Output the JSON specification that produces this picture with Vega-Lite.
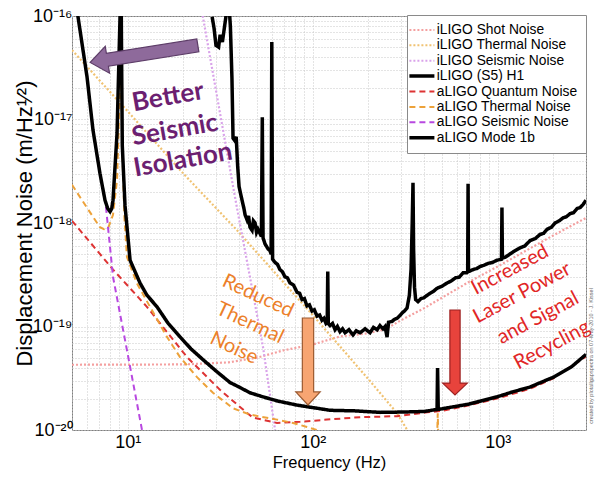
{
  "$schema": "https://vega.github.io/schema/vega-lite/v6.json",
  "width": 514,
  "height": 414,
  "autosize": {"type": "none"},
  "padding": {"left": 72, "top": 16, "right": 13, "bottom": 49},
  "background": "white",
  "config": {
    "view": {"stroke": "#7f7f7f", "strokeWidth": 1},
    "font": "Liberation Sans",
    "axis": {"grid": true, "gridColor": "#c8c8c8", "gridDash": [1, 2], "gridWidth": 1, "ticks": false, "domain": false, "labelColor": "#000", "titleColor": "#000", "labelFont": "Liberation Sans", "titleFont": "Liberation Sans", "titleFontWeight": "normal", "labelOverlap": false, "labelFlush": false},
    "legend": {"padding": 8, "strokeColor": "#8a8a8a", "fillColor": "white", "labelFont": "Liberation Sans", "labelFontSize": 13.8, "labelColor": "black", "symbolType": "stroke", "symbolSize": 625, "symbolStrokeWidth": 2, "labelOffset": 8, "rowPadding": 0.4, "labelLimit": 400}
  },
  "data": {"values": [
    {"s":"shot","f":5,"v":4.27e-20},{"s":"shot","f":20,"v":4.3e-20},{"s":"shot","f":35,"v":4.5e-20},{"s":"shot","f":50,"v":5.0e-20},{"s":"shot","f":70,"v":5.9e-20},{"s":"shot","f":100,"v":6.7e-20},{"s":"shot","f":140,"v":8.0e-20},{"s":"shot","f":200,"v":8.6e-20},{"s":"shot","f":250,"v":9.5e-20},{"s":"shot","f":300,"v":1.15e-19},{"s":"shot","f":400,"v":1.5e-19},{"s":"shot","f":500,"v":1.9e-19},{"s":"shot","f":700,"v":2.7e-19},{"s":"shot","f":1000,"v":3.8e-19},{"s":"shot","f":2000,"v":7.6e-19},{"s":"shot","f":3000,"v":1.12e-18},
    {"s":"ith","f":5,"v":4.68e-17},{"s":"ith","f":10,"v":1.2e-17},{"s":"ith","f":20,"v":3.0e-18},{"s":"ith","f":39,"v":8.5e-19},{"s":"ith","f":100,"v":1.29e-19},{"s":"ith","f":200,"v":3.1e-20},{"s":"ith","f":285,"v":1.46e-20},{"s":"ith","f":330,"v":9.5e-21},{"s":"ith","f":360,"v":6.3e-21},
    {"s":"ise","f":24,"v":1.86e-16},{"s":"ise","f":25.5,"v":9.8e-17},{"s":"ise","f":32,"v":1.0e-17},{"s":"ise","f":38,"v":1.78e-18},{"s":"ise","f":45,"v":3.55e-19},{"s":"ise","f":53.9,"v":6.3e-20},{"s":"ise","f":62.6,"v":1.0e-20},{"s":"ise","f":64,"v":7.1e-21},
    {"s":"h1","f":28.6,"v":9.8e-17},{"s":"h1","f":29.3,"v":7.6e-17},{"s":"h1","f":30.0,"v":5.2e-17},{"s":"h1","f":31.0,"v":5.0e-17},{"s":"h1","f":31.6,"v":6.6e-17},{"s":"h1","f":32.5,"v":5.6e-17},{"s":"h1","f":33.5,"v":8.3e-17},{"s":"h1","f":34.3,"v":1.12e-16},{"s":"h1","f":35.3,"v":1.26e-16},{"s":"h1","f":35.9,"v":7.9e-17},{"s":"h1","f":36.6,"v":2.5e-17},{"s":"h1","f":37.1,"v":6.6e-18},{"s":"h1","f":37.8,"v":6.3e-18},{"s":"h1","f":38.6,"v":6.8e-18},{"s":"h1","f":39.3,"v":3.55e-18},{"s":"h1","f":40.0,"v":2.24e-18},{"s":"h1","f":41.5,"v":1.66e-18},{"s":"h1","f":42.5,"v":1.38e-18},{"s":"h1","f":43.1,"v":1.2e-18},{"s":"h1","f":44.2,"v":1.07e-18},{"s":"h1","f":45.0,"v":1.17e-18},{"s":"h1","f":45.8,"v":9.1e-19},{"s":"h1","f":47.0,"v":8.5e-19},{"s":"h1","f":47.8,"v":1.05e-18},{"s":"h1","f":48.8,"v":1.0e-18},{"s":"h1","f":49.7,"v":8.1e-19},{"s":"h1","f":50.6,"v":8.7e-19},{"s":"h1","f":51.9,"v":7.9e-19},{"s":"h1","f":52.8,"v":7.4e-19},{"s":"h1","f":53.4,"v":1.05e-17},{"s":"h1","f":53.9,"v":7.2e-19},{"s":"h1","f":55.2,"v":6.3e-19},{"s":"h1","f":57.4,"v":5.6e-19},{"s":"h1","f":58.8,"v":5.4e-19},{"s":"h1","f":59.6,"v":5.0e-19},{"s":"h1","f":60.1,"v":5.6e-17},{"s":"h1","f":60.7,"v":4.47e-19},{"s":"h1","f":62.5,"v":4.17e-19},{"s":"h1","f":64.5,"v":3.98e-19},{"s":"h1","f":66.5,"v":3.55e-19},{"s":"h1","f":68.5,"v":3.39e-19},{"s":"h1","f":70.8,"v":3.02e-19},{"s":"h1","f":73.0,"v":2.95e-19},{"s":"h1","f":75.4,"v":2.63e-19},{"s":"h1","f":78.8,"v":2.51e-19},{"s":"h1","f":82.3,"v":2.14e-19},{"s":"h1","f":85.0,"v":2.09e-19},{"s":"h1","f":87.5,"v":1.82e-19},{"s":"h1","f":90.2,"v":1.86e-19},{"s":"h1","f":93.1,"v":1.58e-19},{"s":"h1","f":96.0,"v":1.62e-19},{"s":"h1","f":99.1,"v":1.41e-19},{"s":"h1","f":102,"v":1.45e-19},{"s":"h1","f":105.5,"v":1.26e-19},{"s":"h1","f":109,"v":1.29e-19},{"s":"h1","f":112.2,"v":1.15e-19},{"s":"h1","f":115,"v":1.2e-19},{"s":"h1","f":118,"v":1.07e-19},{"s":"h1","f":119.8,"v":1.1e-19},{"s":"h1","f":120.6,"v":3.4e-19},{"s":"h1","f":121.4,"v":1.07e-19},{"s":"h1","f":124.1,"v":1.02e-19},{"s":"h1","f":128,"v":1.07e-19},{"s":"h1","f":132.1,"v":9.3e-20},{"s":"h1","f":136,"v":1.0e-19},{"s":"h1","f":140.5,"v":8.9e-20},{"s":"h1","f":145,"v":9.5e-20},{"s":"h1","f":149.6,"v":8.7e-20},{"s":"h1","f":157,"v":9.3e-20},{"s":"h1","f":165.1,"v":8.3e-20},{"s":"h1","f":172,"v":9.1e-20},{"s":"h1","f":180.2,"v":8.7e-20},{"s":"h1","f":192,"v":9.5e-20},{"s":"h1","f":204.1,"v":8.7e-20},{"s":"h1","f":213,"v":9.8e-20},{"s":"h1","f":222.7,"v":9.3e-20},{"s":"h1","f":231,"v":1.02e-19},{"s":"h1","f":239.9,"v":9.5e-20},{"s":"h1","f":246,"v":1.0e-19},{"s":"h1","f":252.3,"v":7.9e-20},{"s":"h1","f":257,"v":1.1e-19},{"s":"h1","f":268.5,"v":1.12e-19},{"s":"h1","f":276,"v":1.17e-19},{"s":"h1","f":285.6,"v":1.2e-19},{"s":"h1","f":294,"v":1.26e-19},{"s":"h1","f":304,"v":1.35e-19},{"s":"h1","f":313,"v":1.41e-19},{"s":"h1","f":323.5,"v":1.51e-19},{"s":"h1","f":333,"v":2.0e-19},{"s":"h1","f":340,"v":3.55e-19},{"s":"h1","f":345,"v":1.0e-18},{"s":"h1","f":348.4,"v":2.45e-18},{"s":"h1","f":351,"v":5.6e-19},{"s":"h1","f":355,"v":2.4e-19},{"s":"h1","f":360,"v":1.82e-19},{"s":"h1","f":370.7,"v":1.74e-19},{"s":"h1","f":385,"v":1.86e-19},{"s":"h1","f":399.8,"v":1.9e-19},{"s":"h1","f":415,"v":2.0e-19},{"s":"h1","f":430.5,"v":2.09e-19},{"s":"h1","f":450,"v":2.19e-19},{"s":"h1","f":470,"v":2.34e-19},{"s":"h1","f":500,"v":2.45e-19},{"s":"h1","f":532,"v":2.63e-19},{"s":"h1","f":560,"v":2.75e-19},{"s":"h1","f":590,"v":2.95e-19},{"s":"h1","f":620,"v":3.0e-19},{"s":"h1","f":650,"v":3.3e-19},{"s":"h1","f":680,"v":3.3e-19},{"s":"h1","f":688,"v":3.39e-19},{"s":"h1","f":691.5,"v":2.4e-18},{"s":"h1","f":695,"v":3.39e-19},{"s":"h1","f":736,"v":3.55e-19},{"s":"h1","f":770,"v":3.63e-19},{"s":"h1","f":802,"v":3.8e-19},{"s":"h1","f":840,"v":3.9e-19},{"s":"h1","f":887,"v":4.07e-19},{"s":"h1","f":940,"v":4.17e-19},{"s":"h1","f":991,"v":4.37e-19},{"s":"h1","f":1048,"v":4.47e-19},{"s":"h1","f":1054,"v":1.41e-18},{"s":"h1","f":1060,"v":4.57e-19},{"s":"h1","f":1100,"v":4.68e-19},{"s":"h1","f":1210,"v":5.25e-19},{"s":"h1","f":1320,"v":5.75e-19},{"s":"h1","f":1400,"v":6.0e-19},{"s":"h1","f":1496,"v":6.76e-19},{"s":"h1","f":1600,"v":7.1e-19},{"s":"h1","f":1694,"v":7.76e-19},{"s":"h1","f":1770,"v":7.94e-19},{"s":"h1","f":1849,"v":8.7e-19},{"s":"h1","f":1950,"v":9.1e-19},{"s":"h1","f":2041,"v":1.0e-18},{"s":"h1","f":2150,"v":1.05e-18},{"s":"h1","f":2254,"v":1.12e-18},{"s":"h1","f":2350,"v":1.15e-18},{"s":"h1","f":2460,"v":1.23e-18},{"s":"h1","f":2570,"v":1.26e-18},{"s":"h1","f":2685,"v":1.38e-18},{"s":"h1","f":2790,"v":1.41e-18},{"s":"h1","f":2893,"v":1.51e-18},{"s":"h1","f":3000,"v":1.66e-18},
    {"s":"qn","f":5,"v":1.05e-18},{"s":"qn","f":8.33,"v":3.55e-19},{"s":"qn","f":12.7,"v":1.55e-19},{"s":"qn","f":20.9,"v":5.07e-20},{"s":"qn","f":31.5,"v":2.45e-20},{"s":"qn","f":44.2,"v":1.46e-20},{"s":"qn","f":47.5,"v":1.32e-20},{"s":"qn","f":64.1,"v":1.17e-20},{"s":"qn","f":85.4,"v":1.2e-20},{"s":"qn","f":119.5,"v":1.26e-20},{"s":"qn","f":180,"v":1.33e-20},{"s":"qn","f":285.6,"v":1.36e-20},{"s":"qn","f":415,"v":1.48e-20},{"s":"qn","f":500,"v":1.53e-20},{"s":"qn","f":650,"v":1.68e-20},{"s":"qn","f":1000,"v":2.02e-20},{"s":"qn","f":1500,"v":2.51e-20},{"s":"qn","f":2000,"v":3.16e-20},{"s":"qn","f":3000,"v":5.13e-20},
    {"s":"ath","f":5,"v":2.34e-18},{"s":"ath","f":6.03,"v":1.4e-18},{"s":"ath","f":7.08,"v":9.1e-19},{"s":"ath","f":7.45,"v":8.7e-19},{"s":"ath","f":7.83,"v":8.9e-19},{"s":"ath","f":8.33,"v":1.2e-18},{"s":"ath","f":8.76,"v":2.63e-18},{"s":"ath","f":9.0,"v":1.26e-17},{"s":"ath","f":9.2,"v":5.0e-17},{"s":"ath","f":9.35,"v":5.0e-18},{"s":"ath","f":9.6,"v":1.12e-18},{"s":"ath","f":9.91,"v":4.68e-19},{"s":"ath","f":11.2,"v":2.63e-19},{"s":"ath","f":13.2,"v":1.55e-19},{"s":"ath","f":16.3,"v":7.94e-20},{"s":"ath","f":19.17,"v":5.07e-20},{"s":"ath","f":23.7,"v":3.24e-20},{"s":"ath","f":28.9,"v":2.29e-20},{"s":"ath","f":37.1,"v":1.62e-20},{"s":"ath","f":45.8,"v":1.41e-20},{"s":"ath","f":51.9,"v":1.35e-20},{"s":"ath","f":64.1,"v":1.26e-20},{"s":"ath","f":78.3,"v":1.17e-20},{"s":"ath","f":93.1,"v":1.07e-20},{"s":"ath","f":109,"v":9.8e-21},{"s":"ath","f":140,"v":8.7e-21},{"s":"ath","f":470,"v":7.9e-21},{"s":"ath","f":474,"v":1.45e-20},{"s":"ath","f":478,"v":7.9e-21},{"s":"ath","f":1000,"v":7.9e-21},
    {"s":"ase","f":7.63,"v":1.43e-18},{"s":"ase","f":8.33,"v":3.02e-19},{"s":"ase","f":9.91,"v":5.89e-20},{"s":"ase","f":11.95,"v":1.0e-20},{"s":"ase","f":12.3,"v":7.1e-21},
    {"s":"m1b","f":5.2,"v":1.51e-16},{"s":"m1b","f":5.39,"v":9.8e-17},{"s":"m1b","f":6.03,"v":2.57e-17},{"s":"m1b","f":6.49,"v":7.94e-18},{"s":"m1b","f":7.08,"v":3.02e-18},{"s":"m1b","f":7.54,"v":1.66e-18},{"s":"m1b","f":7.8,"v":1.38e-18},{"s":"m1b","f":8.03,"v":1.29e-18},{"s":"m1b","f":8.2,"v":1.38e-18},{"s":"m1b","f":8.33,"v":1.66e-18},{"s":"m1b","f":8.76,"v":7.41e-18},{"s":"m1b","f":9.09,"v":9.8e-17},{"s":"m1b","f":9.2,"v":3.16e-16},{"s":"m1b","f":9.25,"v":6.3e-17},{"s":"m1b","f":9.35,"v":5.6e-18},{"s":"m1b","f":9.67,"v":1.48e-18},{"s":"m1b","f":10.3,"v":4.37e-19},{"s":"m1b","f":11.66,"v":2.63e-19},{"s":"m1b","f":12.7,"v":2.01e-19},{"s":"m1b","f":14.4,"v":1.55e-19},{"s":"m1b","f":16.5,"v":1.08e-19},{"s":"m1b","f":19.17,"v":7.94e-20},{"s":"m1b","f":22,"v":6.07e-20},{"s":"m1b","f":25.5,"v":4.79e-20},{"s":"m1b","f":30,"v":3.72e-20},{"s":"m1b","f":35.7,"v":2.88e-20},{"s":"m1b","f":40,"v":2.6e-20},{"s":"m1b","f":45.8,"v":2.29e-20},{"s":"m1b","f":53.9,"v":2.09e-20},{"s":"m1b","f":65,"v":1.9e-20},{"s":"m1b","f":82.3,"v":1.74e-20},{"s":"m1b","f":124,"v":1.55e-20},{"s":"m1b","f":170,"v":1.53e-20},{"s":"m1b","f":231,"v":1.48e-20},{"s":"m1b","f":300,"v":1.49e-20},{"s":"m1b","f":400,"v":1.51e-20},{"s":"m1b","f":470,"v":1.58e-20},{"s":"m1b","f":473,"v":3.98e-20},{"s":"m1b","f":477,"v":1.58e-20},{"s":"m1b","f":650,"v":1.74e-20},{"s":"m1b","f":700,"v":1.78e-20},{"s":"m1b","f":991,"v":2.09e-20},{"s":"m1b","f":1200,"v":2.33e-20},{"s":"m1b","f":1493,"v":2.6e-20},{"s":"m1b","f":2000,"v":3.24e-20},{"s":"m1b","f":2500,"v":4.07e-20},{"s":"m1b","f":3000,"v":5.37e-20}
  ]},
  "encoding": {
    "x": {"field": "f", "type": "quantitative", "scale": {"type": "log", "domain": [5, 3000], "nice": false},
      "axis": {"values": [5,6,7,8,9,10,20,30,40,50,60,70,80,90,100,200,300,400,500,600,700,800,900,1000,2000,3000],
        "labelExpr": "datum.value == 10 ? '10¹' : datum.value == 100 ? '10²' : datum.value == 1000 ? '10³' : ''",
        "title": "Frequency (Hz)", "titleFontSize": 16.5, "labelFontSize": 18, "labelPadding": 3, "titlePadding": 3}},
    "y": {"field": "v", "type": "quantitative", "scale": {"type": "log", "domain": [1e-20, 1e-16], "nice": false},
      "axis": {"values": [1e-20,2e-20,3e-20,4e-20,5e-20,6e-20,7e-20,8e-20,9e-20,1e-19,2e-19,3e-19,4e-19,5e-19,6e-19,7e-19,8e-19,9e-19,1e-18,2e-18,3e-18,4e-18,5e-18,6e-18,7e-18,8e-18,9e-18,1e-17,2e-17,3e-17,4e-17,5e-17,6e-17,7e-17,8e-17,9e-17,1e-16],
        "labelExpr": "datum.value == 1e-16 ? '10⁻¹⁶' : datum.value == 1e-17 ? '10⁻¹⁷' : datum.value == 1e-18 ? '10⁻¹⁸' : datum.value == 1e-19 ? '10⁻¹⁹' : datum.value == 1e-20 ? '10⁻²⁰' : ''",
        "title": "Displacement Noise (m/Hz¹⁄²)", "titleFontSize": 22, "labelFontSize": 18, "labelPadding": 0, "titlePadding": -4}}
  },
  "layer": [
    {
      "transform": [{"filter": {"field": "s", "oneOf": ["shot", "ith", "ise"]}}],
      "mark": {"type": "line", "clip": true, "strokeWidth": 2.2},
      "encoding": {
        "color": {"field": "s", "type": "nominal", "scale": {"domain": ["shot","ith","ise","h1","qn","ath","ase","m1b"], "range": ["#f4a0a0","#f0c272","#d9a3ea","#000000","#dd3333","#eda23a","#b848e0","#000000"]},
          "legend": {"title": null, "orient": "none", "legendX": 335, "legendY": -1,
            "labelExpr": "datum.value == 'shot' ? 'iLIGO Shot Noise' : datum.value == 'ith' ? 'iLIGO Thermal Noise' : datum.value == 'ise' ? 'iLIGO Seismic Noise' : datum.value == 'h1' ? 'iLIGO (S5) H1' : datum.value == 'qn' ? 'aLIGO Quantum Noise' : datum.value == 'ath' ? 'aLIGO Thermal Noise' : datum.value == 'ase' ? 'aLIGO Seismic Noise' : 'aLIGO Mode 1b'",
            "encode": {"symbols": {"update": {"strokeWidth": {"signal": "datum.value == 'h1' || datum.value == 'm1b' ? 3.5 : 2"}}}}}},
        "strokeDash": {"field": "s", "type": "nominal", "scale": {"domain": ["shot","ith","ise","h1","qn","ath","ase","m1b"], "range": [[2,2],[2,2],[2,2],[1,0],[6,4],[6,4],[6,4],[1,0]]},
          "legend": {"title": null, "orient": "none", "legendX": 335, "legendY": -1,
            "labelExpr": "datum.value == 'shot' ? 'iLIGO Shot Noise' : datum.value == 'ith' ? 'iLIGO Thermal Noise' : datum.value == 'ise' ? 'iLIGO Seismic Noise' : datum.value == 'h1' ? 'iLIGO (S5) H1' : datum.value == 'qn' ? 'aLIGO Quantum Noise' : datum.value == 'ath' ? 'aLIGO Thermal Noise' : datum.value == 'ase' ? 'aLIGO Seismic Noise' : 'aLIGO Mode 1b'"}}
      }
    },
    {
      "transform": [{"filter": {"field": "s", "equal": "h1"}}],
      "mark": {"type": "line", "clip": true, "strokeWidth": 3.5},
      "encoding": {"color": {"field": "s", "type": "nominal"}, "strokeDash": {"field": "s", "type": "nominal"}}
    },
    {
      "transform": [{"filter": {"field": "s", "oneOf": ["qn", "ath", "ase"]}}],
      "mark": {"type": "line", "clip": true, "strokeWidth": 2},
      "encoding": {"color": {"field": "s", "type": "nominal"}, "strokeDash": {"field": "s", "type": "nominal"}}
    },
    {
      "transform": [{"filter": {"field": "s", "equal": "m1b"}}],
      "mark": {"type": "line", "clip": true, "strokeWidth": 3.5},
      "encoding": {"color": {"field": "s", "type": "nominal"}, "strokeDash": {"field": "s", "type": "nominal"}}
    },
    {
      "data": {"values": [{"f": 12.25, "v": 4.3e-17}]},
      "mark": {"type": "point", "shape": "M-0.12,-1L0.12,-1L0.12,0.68L0.25,0.68L0,1L-0.25,0.68L-0.12,0.68Z", "size": 11881, "angle": 81, "filled": true, "fill": "#8e6a9b", "stroke": "#5d3d68", "strokeWidth": 1.2, "opacity": 1}
    },
    {
      "data": {"values": [{"f": 94.3, "v": 4.59e-20}]},
      "mark": {"type": "point", "shape": "M-0.13,-1L0.13,-1L0.13,0.7L0.28,0.7L0,1L-0.28,0.7L-0.13,0.7Z", "size": 7569, "angle": 0, "filled": true, "fill": "#f7a572", "stroke": "#9c5a30", "strokeWidth": 1.2, "opacity": 1}
    },
    {
      "data": {"values": [{"f": 587.6, "v": 5.61e-20}]},
      "mark": {"type": "point", "shape": "M-0.12,-1L0.12,-1L0.12,0.72L0.29,0.72L0,1L-0.29,0.72L-0.12,0.72Z", "size": 7225, "angle": 0, "filled": true, "fill": "#e8433c", "stroke": "#9c2020", "strokeWidth": 1.2, "opacity": 1}
    },
    {
      "data": {"values": [{"t": "Better", "f": 16.5, "v": 1.65e-17}, {"t": "Seismic", "f": 18.0, "v": 7.93e-18}, {"t": "Isolation", "f": 19.9, "v": 4.06e-18}]},
      "mark": {"type": "text", "angle": -10, "font": "Lato", "fontWeight": "bold", "fontSize": 26, "color": "#6c1f71", "align": "center", "baseline": "middle"},
      "encoding": {"text": {"field": "t"}}
    },
    {
      "data": {"values": [{"t": "Reduced", "f": 50.6, "v": 1.97e-19}, {"t": "Thermal", "f": 45.8, "v": 1.08e-19}, {"t": "Noise", "f": 37.6, "v": 6.19e-20}]},
      "mark": {"type": "text", "angle": 25, "font": "Lato", "fontSize": 20, "color": "#ec7f2a", "align": "center", "baseline": "middle"},
      "encoding": {"text": {"field": "t"}}
    },
    {
      "data": {"values": [{"t": "Increased", "f": 1166, "v": 3.52e-19}, {"t": "Laser Power", "f": 1353, "v": 2.11e-19}, {"t": "and Signal", "f": 1651, "v": 1.21e-19}, {"t": "Recycling", "f": 1966, "v": 6.62e-20}]},
      "mark": {"type": "text", "angle": -28, "font": "Lato", "fontSize": 20, "color": "#e12626", "align": "center", "baseline": "middle"},
      "encoding": {"text": {"field": "t"}}
    },
    {
      "data": {"values": [{"t": "created by plotallgapspectra on 07-May-2010 - J. Kissel", "f": 3194, "v": 5.19e-20}]},
      "mark": {"type": "text", "angle": 270, "fontSize": 5.5, "color": "#666666", "align": "center", "baseline": "middle"},
      "encoding": {"text": {"field": "t"}}
    }
  ]
}
